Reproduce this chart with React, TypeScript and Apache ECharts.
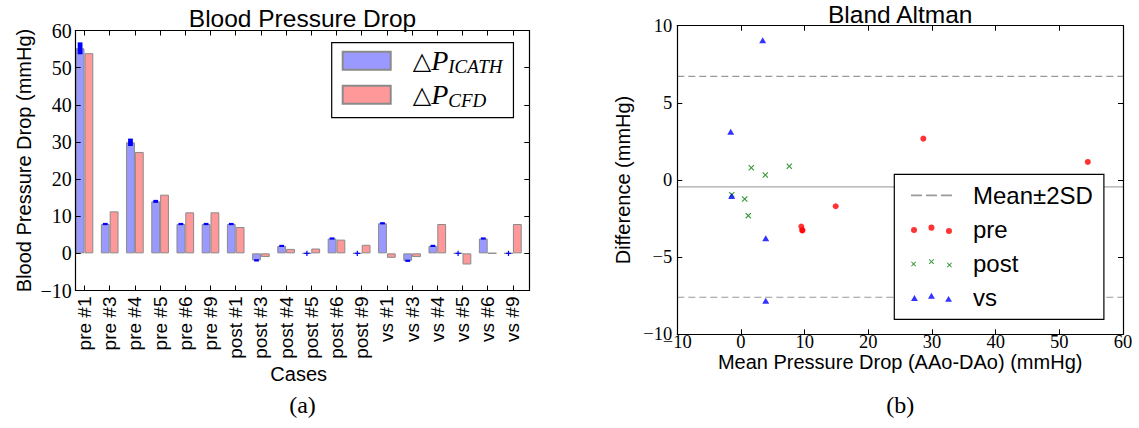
import React, { useEffect, useRef } from 'react';
import * as echarts from 'echarts';

// ---------- data ----------
const cases = ['pre #1', 'pre #3', 'pre #4', 'pre #5', 'pre #6', 'pre #9', 'post #1', 'post #3', 'post #4', 'post #5', 'post #6', 'post #9', 'vs #1', 'vs #3', 'vs #4', 'vs #5', 'vs #6', 'vs #9'];
const icath = [55.2, 7.9, 29.9, 14.0, 7.9, 7.9, 7.9, -1.9, 2.0, 0, 4.0, 0, 8.1, -2.0, 2.0, 0, 4.0, 0];
const icathErr = [1.6, 0.3, 1.0, 0.4, 0.3, 0.3, 0.3, 0.3, 0.2, 0, 0.2, 0, 0.3, 0.3, 0.2, 0, 0.2, 0];
const cfd = [53.9, 11.3, 27.3, 15.8, 11.05, 11.05, 7.1, -1.0, 1.2, 1.3, 3.7, 2.3, -1.2, -1.0, 7.9, -3.0, 0.05, 7.9];

const prePts = [[54.47, 1.17], [28.64, 2.68], [14.88, -1.70], [9.48, -3.02], [9.64, -3.26], [9.64, -3.26]];
const postPts = [[7.59, 0.89], [-1.45, -0.95], [1.62, 0.80], [0.59, -1.23], [3.82, 0.32], [1.15, -2.31]];
const vsPts = [[3.41, 9.06], [-1.46, -1.04], [3.89, -3.77], [-1.61, 3.13], [3.89, -7.83]];
const meanDiff = -0.44;
const sdLimits = [6.72, -7.60];
const baXRange = [-10, 60];

// ---------- styles ----------
const SANS = '"Liberation Sans", Arial, sans-serif';
const SERIF = '"Liberation Serif", "DejaVu Serif", serif';
const neg = (v: number) => (v < 0 ? '\u2212' + Math.abs(v) : String(v));

const tickStyle = { show: true, inside: true, length: 5, lineStyle: { color: '#000', width: 1 } };
const lineStyleAx = { show: true, onZero: false, lineStyle: { color: '#000', width: 1.2 } };
const serifLabel = { fontFamily: SERIF, fontSize: 20, color: '#000' };
const serifLabelSm = { fontFamily: SERIF, fontSize: 18.5, color: '#000', lineHeight: 14 };

const dotsPath = 'path://M0,5.3a3,3 0 1,0 6,0a3,3 0 1,0 -6,0Z M17.3,3a3,3 0 1,0 6,0a3,3 0 1,0 -6,0Z M34.7,6.3a3,3 0 1,0 6,0a3,3 0 1,0 -6,0Z';
const xShape = (x: number, y: number) => {
  const s = 5, t = 0.65;
  return `M${x},${y + t}L${x + t},${y}L${x + s / 2},${y + s / 2 - t}L${x + s - t},${y}L${x + s},${y + t}L${x + s / 2 + t},${y + s / 2}L${x + s},${y + s - t}L${x + s - t},${y + s}L${x + s / 2},${y + s / 2 + t}L${x + t},${y + s}L${x},${y + s - t}L${x + s / 2 - t},${y + s / 2}Z`;
};
const xsPath = 'path://' + xShape(0.5, 3) + xShape(17.8, 0.7) + xShape(35.2, 4);
const triShape = (x: number, y: number) => `M${x},${y + 6}L${x + 3.5},${y}L${x + 7},${y + 6}Z`;
const trisPath = 'path://' + triShape(0, 2.3) + triShape(17.3, 0) + triShape(34.7, 3.3);
const dashPath = 'path://M0,0h8v1.3h-8Z M11,0h8v1.3h-8Z M22,0h8v1.3h-8Z';
const xMarker = 'path://' + xShape(0, 0);

const option: any = {
  animation: false,
  backgroundColor: '#fff',
  grid: [
    { left: 75.7, top: 30.5, width: 453.6, height: 260 },
    { left: 71.9, top: 30.5, width: 453.6, height: 260 },
    { left: 677.3, top: 25.7, width: 445.7, height: 308.6 },
  ],
  xAxis: [
    { gridIndex: 0, type: 'value', min: 0, max: 18, position: 'bottom', axisLine: lineStyleAx, axisTick: { show: false }, axisLabel: { show: false }, splitLine: { show: false }, z: 10 },
    { gridIndex: 0, type: 'value', min: 0, max: 18, position: 'top', axisLine: lineStyleAx, axisTick: { show: false }, axisLabel: { show: false }, splitLine: { show: false }, z: 10 },
    {
      gridIndex: 1, type: 'category', data: cases, position: 'bottom',
      axisLine: { show: false, onZero: false }, axisTick: { ...tickStyle, alignWithLabel: true, interval: 0 },
      axisLabel: { rotate: 90, interval: 0, margin: 6, fontFamily: SANS, fontSize: 19, color: '#000' },
      name: 'Cases', nameLocation: 'middle', nameGap: 73, nameMoveOverlap: false,
      nameTextStyle: { fontFamily: SANS, fontSize: 20, color: '#000', verticalAlign: 'top' }, z: 10,
    },
    {
      gridIndex: 1, type: 'category', data: cases, position: 'top',
      axisLine: { show: false, onZero: false }, axisTick: { ...tickStyle, alignWithLabel: true, interval: 0 },
      axisLabel: { show: false }, z: 10,
    },
    {
      gridIndex: 2, type: 'value', min: baXRange[0], max: baXRange[1], interval: 10, position: 'bottom',
      axisLine: lineStyleAx, axisTick: tickStyle, splitLine: { show: false },
      axisLabel: { ...serifLabelSm, margin: 1, formatter: neg },
      name: 'Mean Pressure Drop (AAo-DAo) (mmHg)', nameLocation: 'middle', nameGap: 18, nameMoveOverlap: false,
      nameTextStyle: { fontFamily: SANS, fontSize: 20, lineHeight: 20, color: '#000', verticalAlign: 'top' }, z: 10,
    },
    {
      gridIndex: 2, type: 'value', min: baXRange[0], max: baXRange[1], interval: 10, position: 'top',
      axisLine: lineStyleAx, axisTick: tickStyle, splitLine: { show: false }, axisLabel: { show: false }, z: 10,
    },
  ],
  yAxis: [
    {
      gridIndex: 0, type: 'value', min: -10, max: 60, interval: 10, position: 'left',
      axisLine: lineStyleAx, axisTick: tickStyle, splitLine: { show: false },
      axisLabel: { ...serifLabel, margin: 4, formatter: neg },
      name: 'Blood Pressure Drop (mmHg)', nameLocation: 'middle', nameGap: 42, nameRotate: 90,
      nameTextStyle: { fontFamily: SANS, fontSize: 20, color: '#000' }, z: 10,
    },
    {
      gridIndex: 0, type: 'value', min: -10, max: 60, interval: 10, position: 'right',
      axisLine: lineStyleAx, axisTick: tickStyle, splitLine: { show: false }, axisLabel: { show: false }, z: 10,
    },
    { gridIndex: 1, type: 'value', min: -10, max: 60, show: false },
    {
      gridIndex: 2, type: 'value', min: -10, max: 10, interval: 5, position: 'left',
      axisLine: lineStyleAx, axisTick: tickStyle, splitLine: { show: false },
      axisLabel: { ...serifLabelSm, margin: 5, formatter: neg },
      name: 'Difference (mmHg)', nameLocation: 'middle', nameGap: 44, nameRotate: 90,
      nameTextStyle: { fontFamily: SANS, fontSize: 20, color: '#000' }, z: 10,
    },
    {
      gridIndex: 2, type: 'value', min: -10, max: 10, interval: 5, position: 'right',
      axisLine: lineStyleAx, axisTick: tickStyle, splitLine: { show: false }, axisLabel: { show: false }, z: 10,
    },
  ],
  legend: [
    {
      left: 331.7, top: 42.7, orient: 'vertical', selectedMode: false,
      data: ['ICATH', 'CFD'], icon: 'rect', itemWidth: 48, itemHeight: 18, itemGap: 5,
      padding: [4, 11, 8, 10], borderColor: '#000', borderWidth: 1.2, backgroundColor: '#fff', borderRadius: 0,
      formatter: (n: string) => `{g|}{t|\u25B3}{p|P}{s|${n}}`,
      textStyle: {
        rich: {
          g: { width: 17 },
          t: { fontFamily: '"DejaVu Serif", serif', fontSize: 24, color: '#000', lineHeight: 30 },
          p: { fontFamily: SERIF, fontStyle: 'italic', fontSize: 28, color: '#000', lineHeight: 30 },
          s: { fontFamily: SERIF, fontStyle: 'italic', fontSize: 19, color: '#000', lineHeight: 22, verticalAlign: 'bottom' },
        },
      },
    },
    {
      left: 894.3, top: 174.3, orient: 'vertical', selectedMode: false,
      data: [
        { name: 'Mean\u00B12SD', icon: dashPath },
        { name: 'pre', icon: dotsPath },
        { name: 'post', icon: xsPath },
        { name: 'vs', icon: trisPath },
      ],
      itemWidth: 41, itemHeight: 14, itemGap: 10,
      padding: [9, 11, 10, 16.7], borderColor: '#000', borderWidth: 1.2, backgroundColor: '#fff', borderRadius: 0,
      formatter: (n: string) => `{g|}{t|${n}}`,
      textStyle: {
        rich: {
          g: { width: 16 },
          t: { fontFamily: SANS, fontSize: 24, color: '#000', lineHeight: 26 },
        },
      },
    },
  ],
  series: [
    {
      type: 'bar', name: 'ICATH', xAxisIndex: 2, yAxisIndex: 2, data: icath,
      barWidth: '35%', barGap: '0%',
      itemStyle: { color: '#9999ff', borderColor: '#8a8a8a', borderWidth: 1 },
    },
    {
      type: 'bar', name: 'CFD', xAxisIndex: 2, yAxisIndex: 2, data: cfd,
      barWidth: '35%', barGap: '0%',
      itemStyle: { color: '#ff9999', borderColor: '#8a8a8a', borderWidth: 1 },
    },
    {
      type: 'custom', name: 'err', xAxisIndex: 2, yAxisIndex: 2, z: 5,
      data: icath.map((v, i) => [i, v, icathErr[i]]),
      renderItem: (params: any, api: any) => {
        const i = api.value(0), v = api.value(1), e = api.value(2);
        const bw = api.size([1, 0])[0];
        const c = api.coord([i, v]);
        const cx = c[0] - bw * 0.175;
        if (e === 0) {
          return {
            type: 'group', children: [
              { type: 'rect', shape: { x: cx - 2.6, y: c[1] - 0.6, width: 5.2, height: 1.2 }, style: { fill: '#0000ff' } },
              { type: 'rect', shape: { x: cx - 0.6, y: c[1] - 2.6, width: 1.2, height: 5.2 }, style: { fill: '#0000ff' } },
            ],
          };
        }
        const top = api.coord([i, v + e]);
        const bot = api.coord([i, v - e]);
        const h = Math.max(bot[1] - top[1], 2.2);
        const mid = (top[1] + bot[1]) / 2;
        return { type: 'rect', shape: { x: cx - 2.4, y: mid - h / 2, width: 4.8, height: h }, style: { fill: '#0000ff' } };
      },
    },
    {
      type: 'line', name: 'mean', xAxisIndex: 4, yAxisIndex: 3, symbol: 'none', z: 1,
      data: baXRange.map((x) => [x, meanDiff]),
      lineStyle: { color: '#a8a8a8', width: 1.3 }, itemStyle: { color: '#a8a8a8' },
    },
    ...sdLimits.map((lim) => ({
      type: 'line', name: 'Mean\u00B12SD', xAxisIndex: 4, yAxisIndex: 3, symbol: 'none', z: 1,
      data: baXRange.map((x) => [x, lim]),
      lineStyle: { color: '#999', width: 1.2, type: [7, 4] }, itemStyle: { color: '#999' },
    })),
    {
      type: 'scatter', name: 'pre', xAxisIndex: 4, yAxisIndex: 3, data: prePts,
      symbol: 'circle', symbolSize: 6, itemStyle: { color: '#ff0000' },
    },
    {
      type: 'scatter', name: 'post', xAxisIndex: 4, yAxisIndex: 3, data: postPts,
      symbol: xMarker, symbolSize: 6, itemStyle: { color: '#007f00' },
    },
    {
      type: 'scatter', name: 'vs', xAxisIndex: 4, yAxisIndex: 3, data: vsPts,
      symbol: 'triangle', symbolSize: [7, 6], itemStyle: { color: '#0000ff' },
    },
  ],
  graphic: [
    { type: 'text', x: 302.5, y: 18, style: { text: 'Blood Pressure Drop', fontFamily: SANS, fontSize: 24.5, fill: '#000', textAlign: 'center', textVerticalAlign: 'middle' } },
    { type: 'text', x: 900.2, y: 14, style: { text: 'Bland Altman', fontFamily: SANS, fontSize: 24.5, fill: '#000', textAlign: 'center', textVerticalAlign: 'middle' } },
    { type: 'text', x: 302.5, y: 405, style: { text: '(a)', fontFamily: SERIF, fontSize: 24, fill: '#000', textAlign: 'center', textVerticalAlign: 'middle' } },
    { type: 'text', x: 900.2, y: 405, style: { text: '(b)', fontFamily: SERIF, fontSize: 24, fill: '#000', textAlign: 'center', textVerticalAlign: 'middle' } },
  ],
};

export default function App() {
  const ref = useRef<HTMLDivElement>(null);
  useEffect(() => {
    const chart = echarts.init(ref.current!, null, { renderer: 'svg' });
    chart.setOption(option);
    return () => chart.dispose();
  }, []);
  return <div ref={ref} style={{ position: 'fixed', left: 0, top: 0, width: 1139, height: 428, background: '#fff' }} />;
}
